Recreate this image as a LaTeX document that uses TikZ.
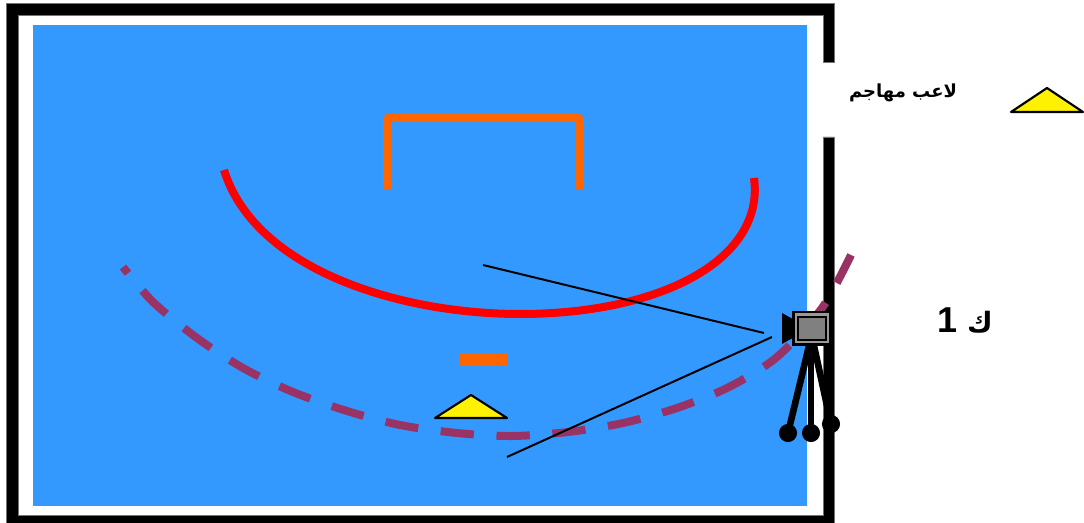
\documentclass[tikz,border=0pt]{standalone}
\usepackage{xcolor}
\usepackage{fontspec}
\usetikzlibrary{positioning}
\TeXXeTstate=1
\newfontfamily\arabicfont[Script=Arabic]{DejaVu Sans}
\setmainfont{Liberation Sans}
\definecolor{hbCourt}{HTML}{3399FF}
\definecolor{hbGoal}{HTML}{FF6600}
\definecolor{hbPath}{HTML}{993366}
\tikzset{
  wall/.style={fill=black, draw=black!55, line width=0.5pt},
  goalline/.style={draw=hbGoal, line width=6pt, line join=bevel},
  arcline/.style={draw=red, line width=6pt},
  pathline/.style={draw=hbPath, line width=6pt, dash pattern=on 25pt off 17pt, dash phase=19pt},
  sightline/.style={draw=black, line width=1.5pt},
  attacker/.style={draw=black, fill=yellow, line width=1.6pt, line join=round},
  tripod/.style={draw=black, line width=5pt},
  tripodfoot/.style={fill=black, draw=none},
  tag/.style={inner sep=0pt}
}
\begin{document}
\begin{tikzpicture}[x=0.75pt, y=-0.75pt]
  \useasboundingbox (0,0) rectangle (1084,523);
  % court
  \fill[white] (0,0) rectangle (1084,523);
  \filldraw[wall] (6.5,3.5) -- (834,3.5) -- (834,62) -- (823,62) -- (823,15) -- (18,15) -- (18,515)
    -- (823,515) -- (823,137) -- (834,137) -- (834,523) -- (6.5,523) -- cycle;
  \fill[hbCourt] (33,25) rectangle (807,506);
  % goal and lines
  \draw[goalline] (387,190) -- (387,118) -- (580,118) -- (580,190);
  \fill[hbGoal] (459,354) rectangle (507,366);
  \draw[arcline] (224,170) .. controls (255,270) and (400,314) .. (520,314)
    .. controls (660,314) and (765,260) .. (754,178);
  \draw[pathline] plot[smooth] coordinates {(123,267) (153,302) (197,338) (243,368) (293,392) (347,411)
    (400,425) (457,433) (512,436) (568,432) (623,423) (677,408) (729,387) (777,357) (822,308) (851,255)};
  % attacker
  \draw[attacker] (435,418) -- (471,395) -- (507,418) -- cycle;
  % camera
  \coordinate (viewa) at (483,265);
  \coordinate (viewb) at (507,457);
  \coordinate (lensa) at (764,333);
  \coordinate (lensb) at (772,337);
  \draw[sightline] (viewa) -- (lensa);
  \draw[sightline] (viewb) -- (lensb);
  \draw[tripod] (809,346) -- (788,433);
  \draw[tripod] (811,346) -- (811,433);
  \draw[tripod] (814,346) -- (831,424);
  \fill[tripodfoot] (788,433) circle (6.8pt);
  \fill[tripodfoot] (811,433) circle (6.8pt);
  \fill[tripodfoot] (831,424) circle (6.8pt);
  \fill[black] (782,313) -- (782,344) -- (798,335) -- (798,322) -- cycle;
  \fill[black] (792,311) rectangle (828,346);
  \fill[gray!80] (795,313) rectangle (829,343);
  \fill[black] (797,316) rectangle (827,341);
  \fill[gray] (799,318) rectangle (825,339);
  % legend
  \draw[attacker] (1011,112) -- (1047,88) -- (1083,112) -- cycle;
  \node[tag, font=\arabicfont\bfseries\fontsize{13.5}{16}\selectfont] (legendtext) at (903,93) {\beginR لاعب مهاجم\endR};
  \node[tag, font=\bfseries\fontsize{27}{30}\selectfont] (posttext) at (965,321) {\beginR{\arabicfont\fontsize{21}{25}\selectfont ك} 1\endR};
\end{tikzpicture}
\end{document}
